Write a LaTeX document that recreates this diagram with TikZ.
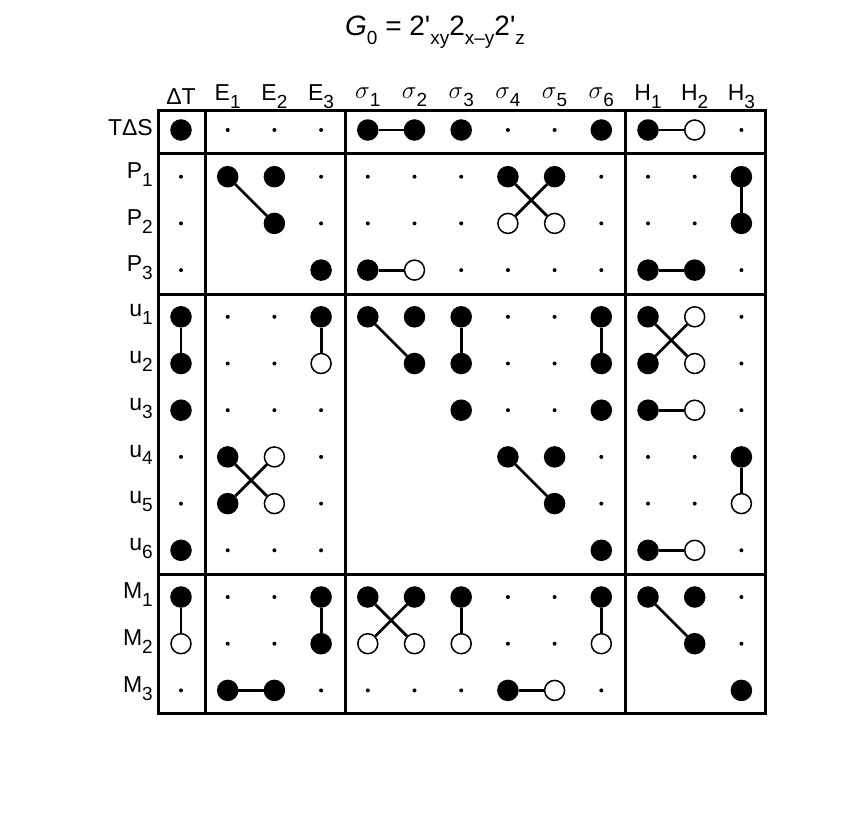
\documentclass[tikz,border=0pt]{standalone}
\usepackage{fontspec}
\setmainfont{Liberation Sans}
\newcommand{\lo}[1]{\raisebox{-0.65ex}{\fontsize{19}{19}\selectfont #1}}
\begin{document}
\begin{tikzpicture}[x=1pt,y=-1pt,
  bigf/.style={circle,fill=black,draw=black,line width=1.5pt,minimum size=20pt,inner sep=0pt},
  bigo/.style={circle,fill=white,draw=black,line width=1.5pt,minimum size=20pt,inner sep=0pt},
  sml/.style={circle,fill=black,minimum size=4pt,inner sep=0pt},
  conn/.style={line width=2.8pt},
  frame/.style={line width=3pt},
  lab/.style={font=\fontsize{23}{23}\selectfont,inner sep=0pt}]
\useasboundingbox (0,0) rectangle (856,812);
\node[lab,font=\fontsize{28}{28}\selectfont] (title) at (435,32) {\textit{G}\lo{0} = 2\textquotesingle\lo{xy}2\lo{x--y}2\textquotesingle\lo{z}};
% frame
\draw[frame] (158,110) rectangle (765,713);
\foreach \x in {205,345,625} \draw[frame] (\x,110) -- (\x,713);
\foreach \y in {153,294,574} \draw[frame] (158,\y) -- (765,\y);
% headers
\foreach \t [count=\i from 0] in {ΔT,E\lo{1},E\lo{2},E\lo{3},$\sigma$\lo{1},$\sigma$\lo{2},$\sigma$\lo{3},$\sigma$\lo{4},$\sigma$\lo{5},$\sigma$\lo{6},H\lo{1},H\lo{2},H\lo{3}}
  \node[lab] (h\i) at ({181+46.7*\i},97) {\t};
\foreach \t [count=\j from 0] in {TΔS,P\lo{1},P\lo{2},P\lo{3},u\lo{1},u\lo{2},u\lo{3},u\lo{4},u\lo{5},u\lo{6},M\lo{1},M\lo{2},M\lo{3}}
  \node[lab,anchor=east] (r\j) at (153,{128+46.7*\j}) {\t};
% cells
\foreach \r/\c/\t in {
0/0/bigf,0/1/sml,0/2/sml,0/3/sml,0/4/bigf,0/5/bigf,0/6/bigf,0/7/sml,0/8/sml,0/9/bigf,0/10/bigf,0/11/bigo,0/12/sml,
1/0/sml,1/1/bigf,1/2/bigf,1/3/sml,1/4/sml,1/5/sml,1/6/sml,1/7/bigf,1/8/bigf,1/9/sml,1/10/sml,1/11/sml,1/12/bigf,
2/0/sml,2/2/bigf,2/3/sml,2/4/sml,2/5/sml,2/6/sml,2/7/bigo,2/8/bigo,2/9/sml,2/10/sml,2/11/sml,2/12/bigf,
3/0/sml,3/3/bigf,3/4/bigf,3/5/bigo,3/6/sml,3/7/sml,3/8/sml,3/9/sml,3/10/bigf,3/11/bigf,3/12/sml,
4/0/bigf,4/1/sml,4/2/sml,4/3/bigf,4/4/bigf,4/5/bigf,4/6/bigf,4/7/sml,4/8/sml,4/9/bigf,4/10/bigf,4/11/bigo,4/12/sml,
5/0/bigf,5/1/sml,5/2/sml,5/3/bigo,5/5/bigf,5/6/bigf,5/7/sml,5/8/sml,5/9/bigf,5/10/bigf,5/11/bigo,5/12/sml,
6/0/bigf,6/1/sml,6/2/sml,6/3/sml,6/6/bigf,6/7/sml,6/8/sml,6/9/bigf,6/10/bigf,6/11/bigo,6/12/sml,
7/0/sml,7/1/bigf,7/2/bigo,7/3/sml,7/7/bigf,7/8/bigf,7/9/sml,7/10/sml,7/11/sml,7/12/bigf,
8/0/sml,8/1/bigf,8/2/bigo,8/3/sml,8/8/bigf,8/9/sml,8/10/sml,8/11/sml,8/12/bigo,
9/0/bigf,9/1/sml,9/2/sml,9/3/sml,9/9/bigf,9/10/bigf,9/11/bigo,9/12/sml,
10/0/bigf,10/1/sml,10/2/sml,10/3/bigf,10/4/bigf,10/5/bigf,10/6/bigf,10/7/sml,10/8/sml,10/9/bigf,10/10/bigf,10/11/bigf,10/12/sml,
11/0/bigo,11/1/sml,11/2/sml,11/3/bigf,11/4/bigo,11/5/bigo,11/6/bigo,11/7/sml,11/8/sml,11/9/bigo,11/11/bigf,11/12/sml,
12/0/sml,12/1/bigf,12/2/bigf,12/3/sml,12/4/sml,12/5/sml,12/6/sml,12/7/bigf,12/8/bigo,12/9/sml,12/12/bigf}
  \node[\t] (n\r-\c) at ({181+46.7*\c},{130+46.7*\r}) {};
% connectors
\foreach \a/\b in {
0-4/0-5,0-10/0-11,
1-1/2-2,1-7/2-8,1-8/2-7,1-12/2-12,
3-4/3-5,3-10/3-11,
4-0/5-0,4-3/5-3,4-4/5-5,4-6/5-6,4-9/5-9,4-10/5-11,4-11/5-10,
6-10/6-11,
7-1/8-2,7-2/8-1,7-7/8-8,7-12/8-12,
9-10/9-11,
10-0/11-0,10-3/11-3,10-4/11-5,10-5/11-4,10-6/11-6,10-9/11-9,10-10/11-11,
12-1/12-2,12-7/12-8}
  \draw[conn] (n\a) -- (n\b);
\end{tikzpicture}
\end{document}
